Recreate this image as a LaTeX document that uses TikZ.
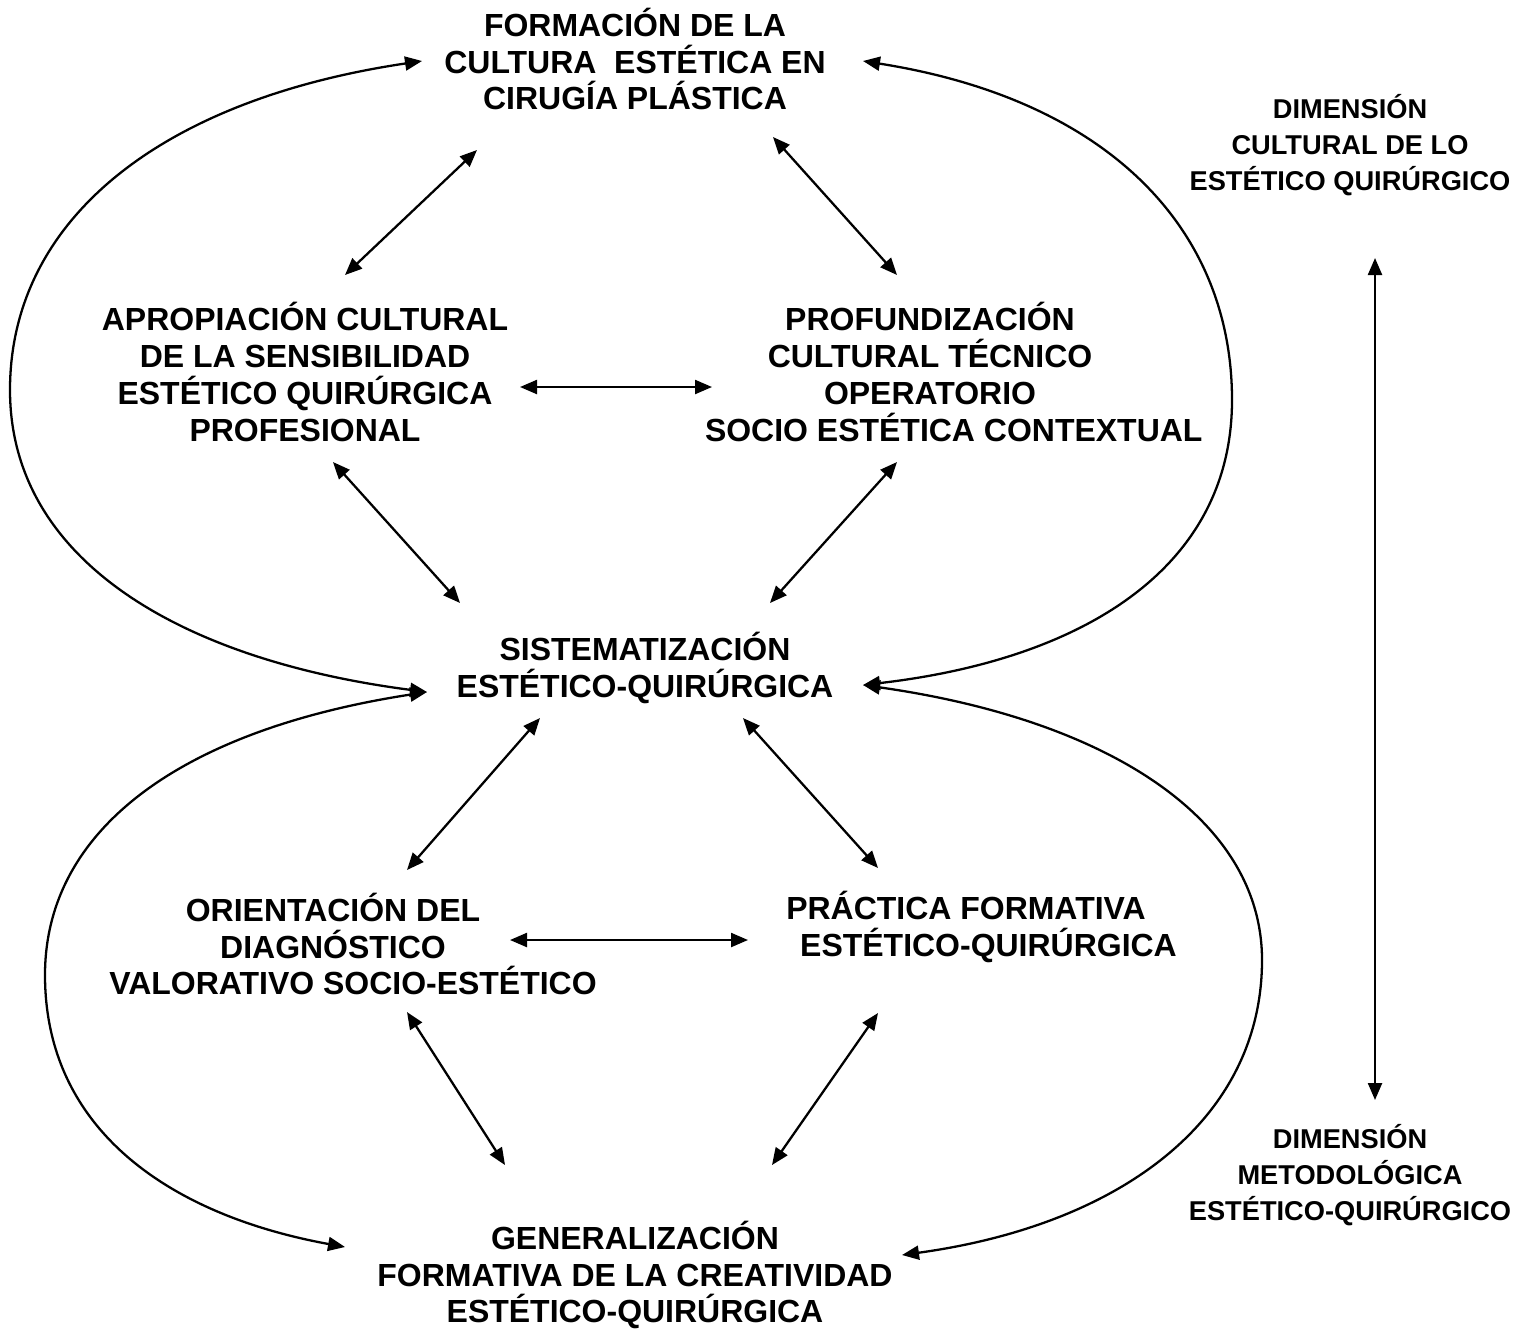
\documentclass[tikz,border=0pt]{standalone}
\usepackage{fontspec}
\setmainfont{Liberation Sans}
\usetikzlibrary{arrows.meta}
\begin{document}
\begin{tikzpicture}[x=0.02cm,y=-0.02cm,
  lbl/.style={font=\bfseries\fontsize{18.2}{21}\selectfont,align=center,inner sep=0pt,anchor=center},
  dimlbl/.style={font=\bfseries\fontsize{15.5}{20.5}\selectfont,align=center,inner sep=0pt,anchor=center},
  biarrow/.style={line width=1.3pt,{Triangle[length=0.34cm,width=0.28cm]}-{Triangle[length=0.34cm,width=0.28cm]}}]
\useasboundingbox (0,0) rectangle (1523,1329);
% text nodes
\node[lbl] (form) at (635,59) {FORMACIÓN DE LA\\CULTURA~~ESTÉTICA EN\\CIRUGÍA PLÁSTICA};
\node[dimlbl] (dimc) at (1350,145) {DIMENSIÓN\\CULTURAL DE LO\\ESTÉTICO QUIRÚRGICO};
\node[lbl] (apro) at (305,372) {APROPIACIÓN CULTURAL\\DE LA SENSIBILIDAD\\ESTÉTICO QUIRÚRGICA\\PROFESIONAL};
\node[lbl] (prof) at (930,372) {PROFUNDIZACIÓN\\CULTURAL TÉCNICO\\OPERATORIO\\\hspace*{0.95cm}SOCIO ESTÉTICA CONTEXTUAL};
\node[lbl] (sist) at (645,668) {SISTEMATIZACIÓN\\ESTÉTICO-QUIRÚRGICA};
\node[lbl] (orie) at (333,944) {ORIENTACIÓN DEL\\DIAGNÓSTICO\\\hspace*{0.8cm}VALORATIVO SOCIO-ESTÉTICO};
\node[lbl] (prac) at (966,927) {PRÁCTICA FORMATIVA\\\hspace*{0.9cm}ESTÉTICO-QUIRÚRGICA};
\node[lbl] (gene) at (635,1275) {GENERALIZACIÓN\\FORMATIVA DE LA CREATIVIDAD\\ESTÉTICO-QUIRÚRGICA};
\node[dimlbl] (dimm) at (1350,1175) {DIMENSIÓN\\METODOLÓGICA\\ESTÉTICO-QUIRÚRGICO};
% arrow end coordinates
\coordinate (formL) at (422,61);
\coordinate (formR) at (863,61);
\coordinate (sistL) at (427,692);
\coordinate (sistR) at (863,685);
\coordinate (geneL) at (345,1247);
\coordinate (geneR) at (902,1255);
\coordinate (a1s) at (345,275); \coordinate (a1e) at (477,150);
\coordinate (a2s) at (773,137); \coordinate (a2e) at (897,275);
\coordinate (a3s) at (520,387); \coordinate (a3e) at (712,387);
\coordinate (a4s) at (333,462); \coordinate (a4e) at (460,603);
\coordinate (a5s) at (897,462); \coordinate (a5e) at (770,603);
\coordinate (a6s) at (540,718); \coordinate (a6e) at (407,870);
\coordinate (a7s) at (743,718); \coordinate (a7e) at (878,868);
\coordinate (a8s) at (510,940); \coordinate (a8e) at (748,940);
\coordinate (a9s) at (407,1012); \coordinate (a9e) at (505,1165);
\coordinate (a10s) at (878,1013); \coordinate (a10e) at (772,1165);
\coordinate (vs) at (1375,258); \coordinate (ve) at (1375,1100);
% straight connectors
\foreach \a in {1,...,10} {\draw[biarrow] (a\a s) -- (a\a e);}
\draw[biarrow] (vs) -- (ve);
% loops
\draw[biarrow] (formL) .. controls (160,100) and (10,220) .. (10,390) .. controls (10,560) and (180,660) .. (sistL);
\draw[biarrow] (formR) .. controls (1110,100) and (1232,230) .. (1232,400) .. controls (1232,570) and (1080,660) .. (sistR);
\draw[biarrow] (sistL) .. controls (180,730) and (45,830) .. (45,975) .. controls (45,1130) and (170,1215) .. (geneL);
\draw[biarrow] (sistR) .. controls (1110,720) and (1262,820) .. (1262,960) .. controls (1262,1120) and (1120,1225) .. (geneR);
\end{tikzpicture}
\end{document}
